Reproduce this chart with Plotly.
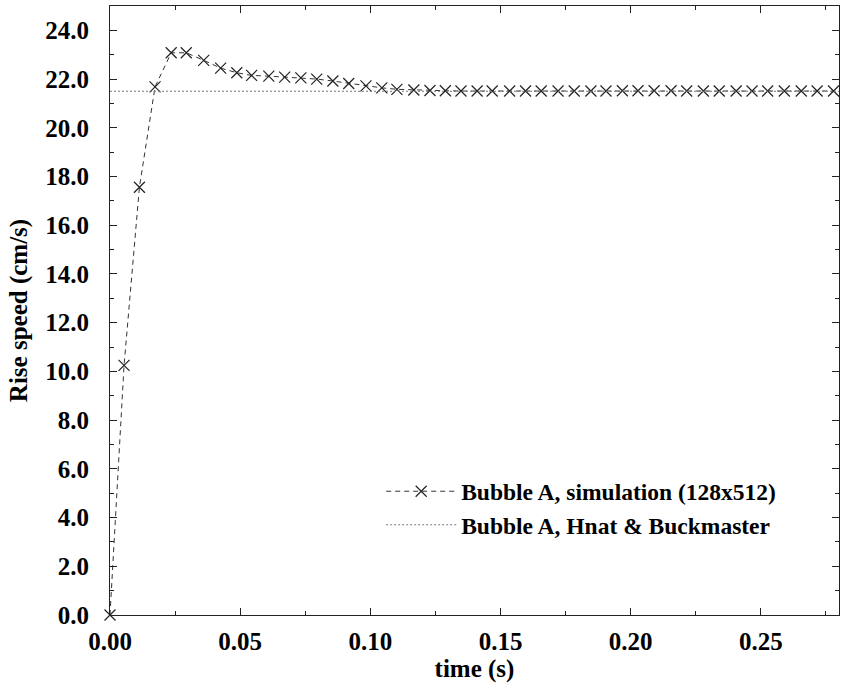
import plotly.graph_objects as go

# Simulation: rise speed of Bubble A (128x512 grid)
sim_time = [0.0, 0.0054, 0.0113, 0.0173, 0.0235, 0.0293, 0.0360, 0.0425, 0.0487, 0.0544,
            0.0610, 0.0671, 0.0733, 0.0794, 0.0856, 0.0917, 0.0983, 0.1044, 0.1102, 0.1167,
            0.1229, 0.1288, 0.1348, 0.1410, 0.1468, 0.1535, 0.1596, 0.1656, 0.1721, 0.1783,
            0.1847, 0.1905, 0.1968, 0.2028, 0.2090, 0.2155, 0.2215, 0.2279, 0.2340, 0.2405,
            0.2466, 0.2526, 0.2590, 0.2655, 0.2716, 0.2779]
sim_speed = [0.0, 10.25, 17.56, 21.68, 23.08, 23.08, 22.77, 22.45, 22.26, 22.15,
             22.12, 22.08, 22.05, 22.00, 21.92, 21.82, 21.72, 21.64, 21.58, 21.55,
             21.53, 21.52, 21.51, 21.51, 21.51, 21.51, 21.51, 21.51, 21.51, 21.51,
             21.51, 21.51, 21.52, 21.52, 21.52, 21.52, 21.51, 21.51, 21.51, 21.51,
             21.51, 21.51, 21.51, 21.51, 21.51, 21.51]

# Hnat & Buckmaster reference speed
ref_time = [0.0, 0.28]
ref_speed = [21.5, 21.5]

sim_name = "Bubble A, simulation (128x512)"
ref_name = "Bubble A, Hnat & Buckmaster"

x_ticks = [0.00, 0.05, 0.10, 0.15, 0.20, 0.25]
y_ticks = [0, 2, 4, 6, 8, 10, 12, 14, 16, 18, 20, 22, 24]

FONT = "Liberation Serif, Times New Roman, serif"

fig = go.Figure()
fig.add_trace(go.Scatter(
    x=sim_time, y=sim_speed, name=sim_name, mode="lines+markers",
    line=dict(color="#333333", width=1, dash="5px,4px"),
    marker=dict(symbol="x-thin", size=11, line=dict(color="#222222", width=1.2)),
    cliponaxis=False,
))
fig.add_trace(go.Scatter(
    x=ref_time, y=ref_speed, name=ref_name, mode="lines",
    line=dict(color="#777777", width=1, dash="2px,2px"),
))

axis_common = dict(
    showgrid=False, zeroline=False, showline=True, linecolor="#222222", linewidth=1,
    mirror="allticks", ticks="inside", ticklen=7, tickcolor="#222222", tickwidth=1,
    tickfont=dict(family=FONT, size=25, color="black", weight="bold"),
)

fig.update_xaxes(
    **axis_common, range=[0, 0.28], tickvals=x_ticks, tickformat=".2f",
    minor=dict(dtick=0.025, tick0=0, ticks="inside", ticklen=4, tickcolor="#222222"),
    title=dict(text="time (s)", font=dict(family=FONT, size=25, color="black", weight="bold"),
               standoff=4),
    ticklabelstandoff=4,
)
fig.update_yaxes(
    **axis_common, range=[0, 25], tickvals=y_ticks, tickformat=".1f",
    minor=dict(dtick=1, tick0=0, ticks="inside", ticklen=4, tickcolor="#222222"),
    title=dict(text="Rise speed (cm/s)", font=dict(family=FONT, size=25, color="black", weight="bold"),
               standoff=10),
    ticklabelstandoff=15,
)

fig.update_layout(
    width=841, height=689,
    margin=dict(l=110, r=2, t=6, b=74),
    paper_bgcolor="white", plot_bgcolor="white",
    legend=dict(
        x=0.372, y=0.239, xanchor="left", yanchor="top",
        bgcolor="rgba(0,0,0,0)", borderwidth=0, itemwidth=70,
        font=dict(family=FONT, size=23.5, color="black", weight="bold"),
        tracegroupgap=0,
    ),
)

fig.write_html("out.html")
